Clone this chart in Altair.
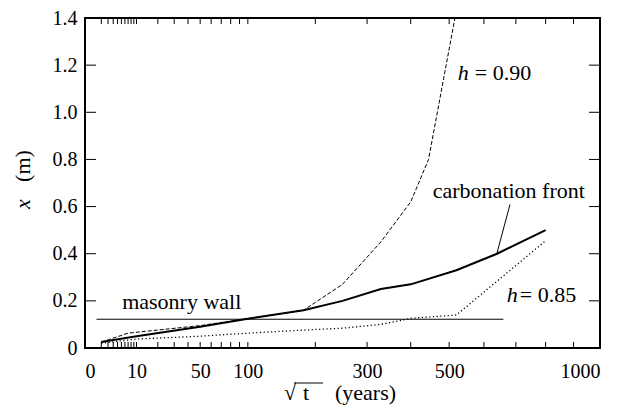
import altair as alt
import pandas as pd

# ---- data (t in years, x in m) ----
front_t = [1, 10, 50, 100, 180, 250, 330, 400, 520, 640, 800]
front_x = [0.025, 0.05, 0.09, 0.124, 0.16, 0.20, 0.25, 0.27, 0.33, 0.40, 0.50]

h90_t = [1, 7, 50, 100, 180, 250, 330, 400, 445, 516]
h90_x = [0.025, 0.063, 0.095, 0.125, 0.16, 0.27, 0.45, 0.62, 0.80, 1.40]

h85_t = [1, 10, 50, 100, 180, 250, 330, 400, 520, 800]
h85_x = [0.02, 0.038, 0.05, 0.063, 0.076, 0.084, 0.10, 0.126, 0.14, 0.455]

wall_t = [0.5, 660]
wall_x = [0.122, 0.122]

pointer_t = [640, 681]
pointer_x = [0.403, 0.609]

x_label_values = [0, 10, 50, 100, 300, 500, 1000]
x_tick_values = list(range(1, 11)) + list(range(20, 101, 10)) + list(range(200, 1001, 100))
y_tick_values = [0, 0.2, 0.4, 0.6, 0.8, 1.0, 1.2, 1.4]

W, H = 515, 330
FONT = "Liberation Serif"
FS = 20      # tick labels
FA = 22      # annotations / titles

xs = alt.Scale(type="sqrt", domain=[0, 1000], nice=False)
ys = alt.Scale(domain=[0, 1.4], nice=False)

def df(t, x, name):
    return pd.DataFrame({"t": t, "x": x, "s": name})

front = df(front_t, front_x, "front")
h90 = df(h90_t, h90_x, "h90")
h85 = df(h85_t, h85_x, "h85")
wall = df(wall_t, wall_x, "wall")
ptr = df(pointer_t, pointer_x, "ptr")

X = alt.X("t:Q", scale=xs,
          axis=alt.Axis(values=x_label_values, ticks=False, domain=False, grid=False,
                        format="d", labelFont=FONT, labelFontSize=FS, labelColor="black",
                        labelPadding=13, title=None))
Y = alt.Y("x:Q", scale=ys,
          axis=alt.Axis(values=y_tick_values, ticks=False, domain=False, grid=False,
                        labelExpr="datum.value == 0 ? '0' : format(datum.value, '.1f')",
                        labelFont=FONT, labelFontSize=FS, labelColor="black",
                        labelPadding=8, title=None))

base_axes = alt.Chart(front).mark_line(color="black", strokeWidth=2).encode(x=X, y=Y)

def line(d, **kw):
    return alt.Chart(d).mark_line(color="black", clip=True, **kw).encode(
        x=alt.X("t:Q", scale=xs), y=alt.Y("x:Q", scale=ys))

l90 = line(h90, strokeWidth=1, strokeDash=[4, 2])
l85 = line(h85, strokeWidth=1.3, strokeDash=[1.2, 2.5])
lwall = line(wall, strokeWidth=1)
lptr = line(ptr, strokeWidth=1)

# ticks (inward)
xt = pd.DataFrame({"t": x_tick_values})
bt = alt.Chart(xt).mark_rule(color="black", strokeWidth=1).encode(
    x=alt.X("t:Q", scale=xs), y=alt.value(H), y2=alt.value(H - 6))
tt = alt.Chart(xt).mark_rule(color="black", strokeWidth=1).encode(
    x=alt.X("t:Q", scale=xs), y=alt.value(0), y2=alt.value(6))
yt = pd.DataFrame({"x": y_tick_values})
lt = alt.Chart(yt).mark_rule(color="black", strokeWidth=1).encode(
    y=alt.Y("x:Q", scale=ys), x=alt.value(0), x2=alt.value(11))
rt = alt.Chart(yt).mark_rule(color="black", strokeWidth=1).encode(
    y=alt.Y("x:Q", scale=ys), x=alt.value(W), x2=alt.value(W - 11))

# annotations
ann_normal = pd.DataFrame({
    "t": [5.2, 456, 573, 713],
    "x": [0.195, 0.664, 1.168, 0.223],
    "txt": ["masonry wall", "carbonation front", "= 0.90", "= 0.85"],
})
ann_italic = pd.DataFrame({
    "t": [524, 671],
    "x": [1.168, 0.223],
    "txt": ["h", "h"],
})
texts_n = alt.Chart(ann_normal).mark_text(font=FONT, fontSize=FA, align="left",
                                          baseline="middle", color="black").encode(
    x=alt.X("t:Q", scale=xs), y=alt.Y("x:Q", scale=ys), text="txt:N")
texts_i = alt.Chart(ann_italic).mark_text(font=FONT, fontSize=FA, fontStyle="italic",
                                          align="left", baseline="middle", color="black").encode(
    x=alt.X("t:Q", scale=xs), y=alt.Y("x:Q", scale=ys), text="txt:N")

# axis titles
one = pd.DataFrame({"a": [0]})
ytitle_x = alt.Chart(one).mark_text(
    font=FONT, fontSize=FA, fontStyle="italic", angle=270, color="black",
    align="center", baseline="middle").encode(
    x=alt.value(-62), y=alt.value(186), text=alt.value("x"))
ytitle_m = alt.Chart(one).mark_text(
    font=FONT, fontSize=FA, angle=270, color="black",
    align="center", baseline="middle").encode(
    x=alt.value(-62), y=alt.value(148), text=alt.value("(m)"))

def xt_piece(txt, px):
    return alt.Chart(one).mark_text(
        font=FONT, fontSize=FA, color="black", align="left", baseline="alphabetic").encode(
        x=alt.value(px), y=alt.value(382), text=alt.value(txt))

xtitle_r = xt_piece("√", 199)
xtitle_t = xt_piece("t", 218)
xtitle_y = xt_piece("(years)", 250)
overline = alt.Chart(one).mark_rule(color="black", strokeWidth=1).encode(
    x=alt.value(209), x2=alt.value(238), y=alt.value(365))

chart = alt.layer(base_axes, l90, l85, lwall, lptr, bt, tt, lt, rt, texts_n, texts_i,
                  ytitle_x, ytitle_m, xtitle_r, xtitle_t, xtitle_y, overline).properties(
    width=W, height=H,
    background="white",
    autosize=alt.AutoSizeParams(type="none"),
    padding={"left": 77, "top": 10, "right": 23, "bottom": 60},
).configure_view(stroke="black", strokeWidth=2)

chart.save("out.html", embed_options={"renderer": "svg", "actions": False})
